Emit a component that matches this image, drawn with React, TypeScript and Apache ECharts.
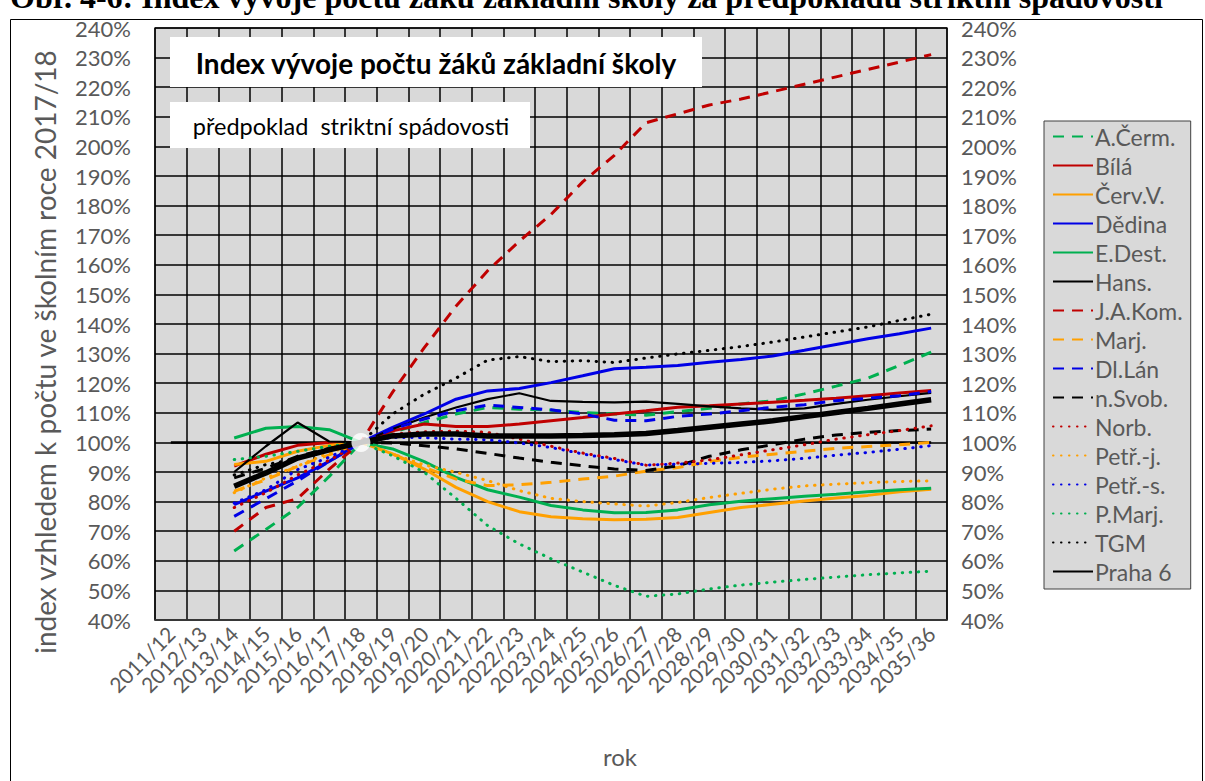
import React, { useEffect, useRef } from 'react';
import * as echarts from 'echarts';

const categories = [
  '2011/12', '2012/13', '2013/14', '2014/15', '2015/16', '2016/17', '2017/18', '2018/19', '2019/20',
  '2020/21', '2021/22', '2022/23', '2023/24', '2024/25', '2025/26', '2026/27', '2027/28', '2028/29',
  '2029/30', '2030/31', '2031/32', '2032/33', '2033/34', '2034/35', '2035/36',
];

const base100 = [100, 100, 100, 100, 100, 100, 100, 100, 100, 100, 100, 100, 100, 100, 100, 100, 100, 100, 100, 100, 100, 100, 100, 100, 100];
const aCerm = [null, null, 63.3, 70.6, 78, 88.5, 100, 103.4, 106.7, 109.6, 111.8, 111.2, 110.9, 110.1, 109.6, 109.2, 110.4, 111.5, 113, 114.1, 116.4, 119, 121.7, 126, 130.5];
const bila = [null, null, 92, 96, 99, 100, 100, 103.9, 106.2, 105.4, 105.4, 106.2, 107.3, 108.4, 109.6, 110.7, 111.9, 112.4, 113, 113.6, 114.2, 114.9, 115.8, 116.7, 117.5];
const cervV = [null, null, 92.5, 93.6, 97, 99, 100, 96.1, 91, 84.8, 80, 76.6, 74.9, 74.2, 73.9, 74, 74.6, 76.3, 78, 79.1, 80.2, 81.2, 82.1, 83.3, 84.2];
const dedina = [null, null, 79, 83.5, 88, 93.6, 100, 105.1, 109.6, 114.6, 117.4, 118.2, 120.2, 122.5, 124.9, 125.4, 126, 127.1, 128, 129.2, 131.1, 133.1, 135, 136.7, 138.6];
const eDest = [null, null, 101.5, 104.8, 105.4, 104.3, 100, 97.8, 93.5, 88.2, 84, 81.5, 78.7, 77.2, 76.2, 76.3, 77.2, 78.9, 80.1, 81, 81.8, 82.5, 83.3, 84, 84.5];
const hans = [null, null, 90, 98.7, 106.7, 100.3, 100, 104.5, 108.4, 111.8, 114.6, 116.6, 114, 113.7, 113.5, 113.8, 113, 112.2, 111.5, 111, 111.5, 113, 114.4, 115.6, 116.7];
const jaKom = [null, null, 70, 78, 81, 91, 100, 117, 132, 146, 158, 168, 177, 188, 197, 208, 211, 214, 216, 218.5, 221, 223.5, 226, 228.5, 231];
const marj = [null, null, 83.5, 87.4, 91.9, 95.8, 100, 96.1, 91.6, 87.6, 85.4, 85.7, 86.5, 87.6, 88.6, 90.3, 91.5, 93.5, 95, 96, 97, 98, 98.6, 99.2, 100];
const dlLan = [null, null, 75, 81, 87, 93.6, 100, 104.5, 107.9, 110.7, 112.6, 111.8, 111, 109.6, 107.5, 107.3, 108.8, 109.6, 110.7, 111.9, 112.7, 114.1, 114.9, 115.8, 117.2];
const nSvob = [null, null, 88, 91.3, 95.3, 98, 100, 99.8, 98.9, 97.8, 96.3, 94.7, 93.3, 92.1, 91, 90.5, 92.1, 95.3, 97.5, 99.2, 101.1, 102.5, 103.4, 104, 104.5];
const norb = [null, null, 78, 83, 89, 94, 100, 102.8, 103.6, 103.8, 103.4, 101.1, 98.7, 96.4, 94.6, 92.3, 93, 94.1, 95.8, 97.5, 99.2, 101.1, 102.6, 104, 105.6];
const petrJ = [null, null, 83, 88, 92, 96.5, 100, 96.1, 92.4, 89.9, 87.1, 83.7, 81.1, 80, 79.2, 78.5, 79.7, 81.4, 82.8, 84.2, 85.3, 85.9, 86.4, 86.8, 87];
const petrS = [null, null, 79.5, 84, 90.8, 95, 100, 101.7, 101.6, 101.1, 100.9, 99.8, 98.3, 96.1, 94.2, 92.3, 92.7, 92.9, 93.2, 93.8, 94.6, 95.7, 96.6, 97.7, 98.9];
const pMarj = [null, null, 94.2, 95.3, 97, 98.7, 100, 95.5, 89.9, 81.1, 71.9, 65.7, 60.7, 56.2, 51.7, 48, 48.8, 50.5, 51.8, 52.8, 53.7, 54.5, 55.3, 55.9, 56.5];
const tgm = [null, null, 89, 92.5, 94.5, 97.5, 100, 109.6, 116.3, 121.7, 127.8, 129, 127.3, 127.6, 127, 128.5, 129.9, 131.1, 132.4, 133.9, 135.6, 137.3, 139, 141.2, 143.3];
const praha6 = [null, null, 85.2, 89.7, 94.7, 97.5, 100, 102.2, 102.8, 102.8, 102.2, 102.2, 102.2, 102.3, 102.6, 103, 104, 105.1, 106.2, 107.3, 108.7, 110.1, 111.5, 113, 114.4];

const yTicks = { min: 40, max: 240, interval: 10 };

const GREEN = '#00B050';
const RED = '#C00000';
const ORANGE = '#FFA000';
const BLUE = '#0000E6';
const BLACK = '#000000';
const GRAY = '#595959';
const FONT = 'Lato';

type Kind = 'solid' | 'dash' | 'dot';

function mk(name: string, data: (number | null)[], color: string, kind: Kind, width = 3) {
  return {
    type: 'line',
    name,
    data,
    symbol: 'none',
    silent: true,
    connectNulls: false,
    itemStyle: { color },
    lineStyle: {
      color,
      width,
      type: kind === 'solid' ? 'solid' : kind === 'dash' ? [11, 8] : [0.5, 7.5],
      cap: kind === 'dot' ? 'round' : 'butt',
    },
  };
}

export default function App() {
  const ref = useRef<HTMLDivElement>(null);
  useEffect(() => {
    const chart = echarts.init(ref.current!, null, { renderer: 'svg' });
    const series: any[] = [
      { ...mk('base', base100, BLACK, 'solid', 2.5) },
      mk('A.Čerm.', aCerm, GREEN, 'dash'),
      mk('Bílá', bila, RED, 'solid'),
      mk('Červ.V.', cervV, ORANGE, 'solid'),
      mk('Dědina', dedina, BLUE, 'solid'),
      mk('E.Dest.', eDest, GREEN, 'solid'),
      mk('Hans.', hans, BLACK, 'solid', 2.2),
      mk('J.A.Kom.', jaKom, RED, 'dash'),
      mk('Marj.', marj, ORANGE, 'dash'),
      mk('Dl.Lán', dlLan, BLUE, 'dash'),
      mk('n.Svob.', nSvob, BLACK, 'dash'),
      mk('Norb.', norb, RED, 'dot'),
      mk('Petř.-j.', petrJ, ORANGE, 'dot'),
      mk('Petř.-s.', petrS, BLUE, 'dot'),
      mk('P.Marj.', pMarj, GREEN, 'dot'),
      mk('TGM', tgm, BLACK, 'dot'),
      mk('Praha 6', praha6, BLACK, 'solid', 5.5),
      {
        type: 'scatter',
        name: 'ref',
        data: [[categories[6], 100]],
        symbol: 'circle',
        symbolSize: 19,
        silent: true,
        itemStyle: { color: '#FFFFFF' },
        z: 10,
      },
    ];
    const legendNames = series.filter((s) => s.type === 'line' && s.name !== 'base').map((s) => s.name);
    chart.setOption({
      animation: false,
      backgroundColor: '#FFFFFF',
      textStyle: { fontFamily: FONT },
      grid: {
        left: 155,
        top: 28,
        width: 792,
        height: 592,
        show: true,
        backgroundColor: '#D9D9D9',
        borderColor: '#404040',
        borderWidth: 1.5,
        containLabel: false,
      },
      legend: {
        orient: 'vertical',
        left: 1044,
        top: 121,
        data: legendNames,
        backgroundColor: '#D9D9D9',
        borderColor: '#404040',
        borderWidth: 1,
        borderRadius: 0,
        padding: [4, 8, 6, 8],
        itemWidth: 40,
        itemHeight: 12,
        itemGap: 6,
        selectedMode: false,
        itemStyle: { color: 'rgba(0,0,0,0)', borderWidth: 0, opacity: 0 },
        textStyle: { fontSize: 23, color: GRAY, fontFamily: FONT, lineHeight: 21.6, padding: [0, 0, 0, -3] },
      },
      xAxis: {
        type: 'category',
        data: categories,
        boundaryGap: true,
        axisLine: { show: true, lineStyle: { color: '#404040', width: 1.5 } },
        axisTick: { show: false },
        axisLabel: { interval: 0, rotate: 45, fontSize: 21, color: GRAY, fontFamily: FONT, margin: 10 },
        splitLine: { show: true, interval: 0, lineStyle: { color: '#000000', width: 1.5 } },
      },
      yAxis: [
        {
          type: 'value',
          ...yTicks,
          position: 'left',
          axisLine: { show: false },
          axisTick: { show: false },
          axisLabel: { formatter: '{value}%', fontSize: 22, color: GRAY, fontFamily: FONT, margin: 24 },
          splitLine: { show: true, lineStyle: { color: '#000000', width: 1.5 } },
        },
        {
          type: 'value',
          ...yTicks,
          position: 'right',
          axisLine: { show: false },
          axisTick: { show: false },
          axisLabel: { formatter: '{value}%', fontSize: 22, color: GRAY, fontFamily: FONT, margin: 14 },
          splitLine: { show: false },
        },
      ],
      series,
      graphic: [
        {
          type: 'rect',
          shape: { x: 10.5, y: 19.5, width: 1192, height: 800 },
          style: { fill: 'none', stroke: '#000000', lineWidth: 1 },
          silent: true,
        },
        {
          type: 'text',
          x: 10,
          y: -3,
          style: {
            text: 'Obr. 4-6: Index vývoje počtu žáků základní školy za předpokladu striktní spádovosti',
            font: 'bold 32px "Liberation Serif"',
            fill: '#000000',
            textVerticalAlign: 'middle',
          },
          silent: true,
        },
        {
          type: 'rect',
          shape: { x: 170, y: 37, width: 532, height: 50 },
          style: { fill: '#FFFFFF' },
          z: 20,
          silent: true,
        },
        {
          type: 'text',
          x: 436,
          y: 63,
          z: 21,
          style: {
            text: 'Index vývoje počtu žáků základní školy',
            font: 'bold 28px Lato',
            fill: '#000000',
            textAlign: 'center',
            textVerticalAlign: 'middle',
          },
          silent: true,
        },
        {
          type: 'rect',
          shape: { x: 170, y: 102, width: 360, height: 46 },
          style: { fill: '#FFFFFF' },
          z: 20,
          silent: true,
        },
        {
          type: 'text',
          x: 351,
          y: 126,
          z: 21,
          style: {
            text: 'předpoklad  striktní spádovosti',
            font: '23.5px Lato',
            fill: '#000000',
            textAlign: 'center',
            textVerticalAlign: 'middle',
          },
          silent: true,
        },
        {
          type: 'text',
          x: 45,
          y: 352,
          rotation: Math.PI / 2,
          style: {
            text: 'index vzhledem k počtu ve školním roce 2017/18',
            font: '28px Lato',
            fill: GRAY,
            textAlign: 'center',
            textVerticalAlign: 'middle',
          },
          silent: true,
        },
        {
          type: 'text',
          x: 620,
          y: 756,
          style: {
            text: 'rok',
            font: '24px Lato',
            fill: GRAY,
            textAlign: 'center',
            textVerticalAlign: 'middle',
          },
          silent: true,
        },
      ],
    });
    return () => chart.dispose();
  }, []);
  return <div ref={ref} style={{ position: 'absolute', left: 0, top: 0, width: 1205, height: 781 }} />;
}
